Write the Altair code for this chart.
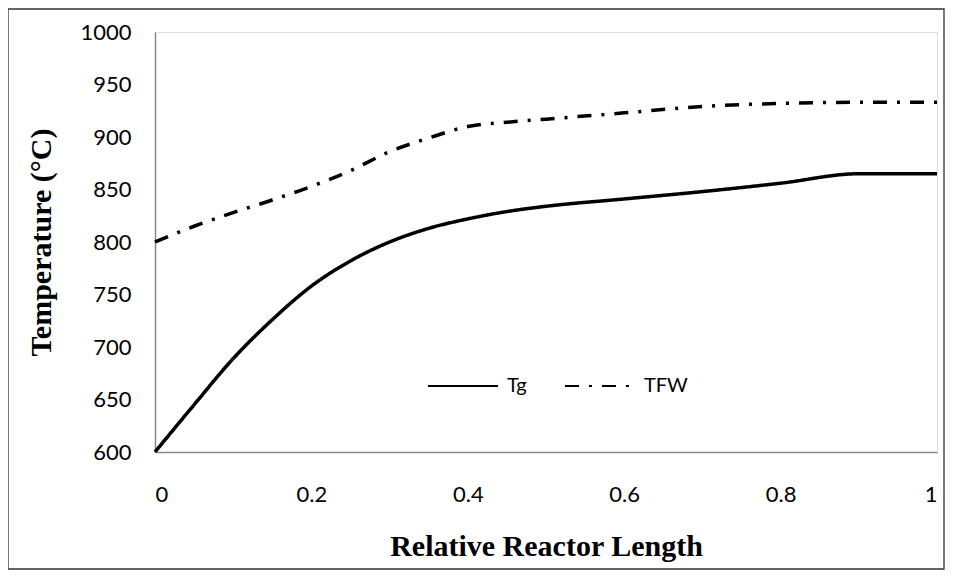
import altair as alt
import pandas as pd

x_vals = [0, 0.05, 0.1, 0.15, 0.2, 0.25, 0.3, 0.35, 0.4, 0.45, 0.5, 0.6, 0.7, 0.8, 0.9, 1.0]
tg_vals = [600, 645, 689, 726, 758, 782, 800, 813, 822, 829, 834, 841, 848, 856, 865, 865]
tfw_vals = [800, 815, 828, 840, 853, 868, 886, 899, 910, 914, 917, 923, 929, 932, 933, 933]
series = ["Tg", "TFW"]

rows = []
for xv, a, b in zip(x_vals, tg_vals, tfw_vals):
    rows.append({"x": xv, "T": a, "series": "Tg"})
    rows.append({"x": xv, "T": b, "series": "TFW"})
df = pd.DataFrame(rows)

W, H = 782, 420

lines = alt.Chart(df).mark_line(interpolate="monotone", strokeWidth=3.5, color="black").encode(
    x=alt.X("x:Q", scale=alt.Scale(domain=[0, 1], nice=False),
            axis=alt.Axis(values=[0, 0.2, 0.4, 0.6, 0.8, 1], format="~g", title="Relative Reactor Length",
                          grid=False, ticks=False, domainColor="#868686", domainWidth=1.5,
                          labelPadding=32, labelFontSize=22, labelFont="Lato", labelColor="black",
                          titleFont="Liberation Serif", titleFontSize=30, titleFontWeight="bold",
                          titlePadding=26, titleColor="black")),
    y=alt.Y("T:Q", scale=alt.Scale(domain=[600, 1000], nice=False),
            axis=alt.Axis(values=list(range(600, 1001, 50)), format="d", title="Temperature (°C)",
                          grid=False, ticks=False, domainColor="#868686", domainWidth=1.5,
                          labelPadding=24, labelFontSize=22, labelFont="Lato", labelColor="black",
                          titleFont="Liberation Serif", titleFontSize=30, titleFontWeight="bold",
                          titlePadding=23, titleColor="black")),
    strokeDash=alt.StrokeDash("series:N", sort=series,
                              scale=alt.Scale(domain=series, range=[[1, 0], [14, 10, 3, 10]]),
                              legend=alt.Legend(orient="none", legendX=272, legendY=318, direction="horizontal",
                                                title=None, symbolType="stroke", symbolSize=4900,
                                                symbolStrokeWidth=2, symbolStrokeColor="black",
                                                labelFont="Lato", labelFontSize=20, labelColor="black",
                                                columnPadding=34, labelOffset=8)),
    detail="series:N",
)

border = alt.Chart(alt.Data(values=[{}])).mark_rect(fill=None, stroke="#333333", strokeWidth=1.3).encode(
    x=alt.value(-147), x2=alt.value(789), y=alt.value(-23), y2=alt.value(537)
)

chart = alt.layer(border, lines).properties(
    width=W, height=H,
    autosize=alt.AutoSizeParams(type="none"),
    padding={"left": 147, "top": 24, "right": 8, "bottom": 118},
).configure_view(stroke="black", strokeWidth=1.5).configure(background="white")

chart.save("out.html", embed_options={"renderer": "svg", "actions": False})
